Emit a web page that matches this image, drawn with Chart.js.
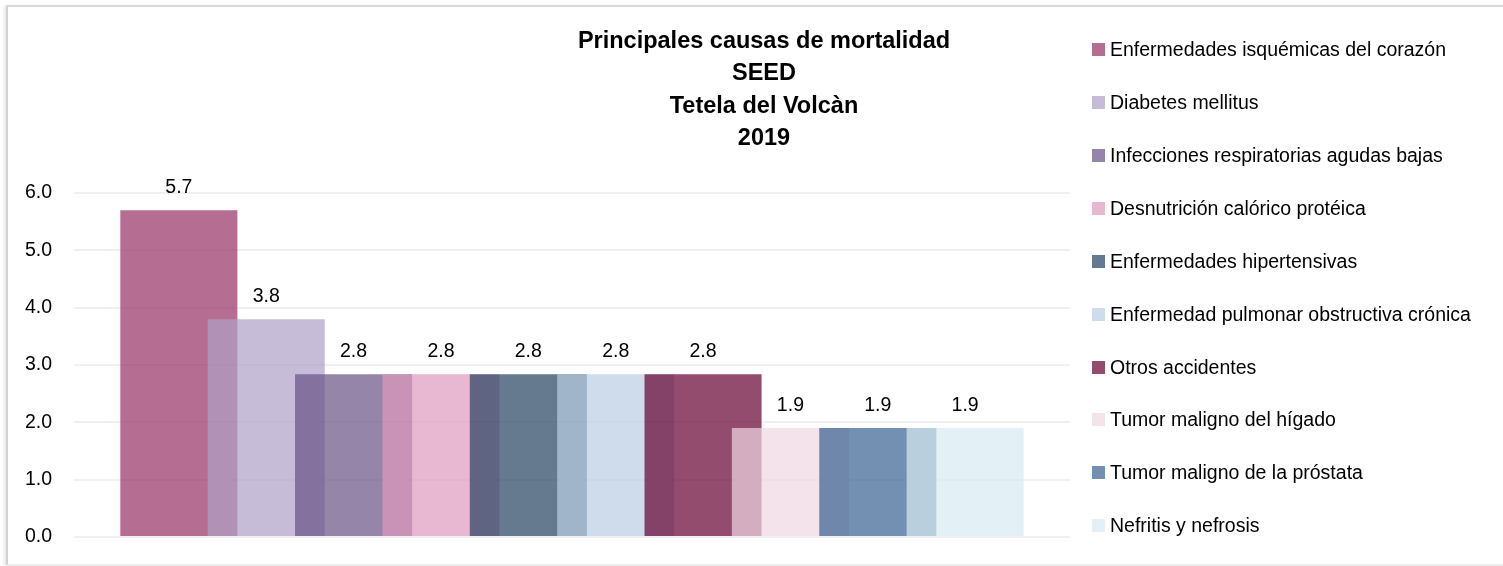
<!DOCTYPE html>
<html>
<head>
<meta charset="utf-8">
<script src="https://cdn.jsdelivr.net/npm/chart.js@4.4.1/dist/chart.umd.min.js"></script>
<style>
  html, body { margin: 0; padding: 0; background: #fff; overflow: hidden; width: 1503px; height: 566px; }
  #frame { position: absolute; left: 6px; top: 5px; width: 1600px; height: 557px;
           border-top: 2px solid #dadada; border-left: 2px solid #d2d2d2; border-bottom: 1px solid #ececec;
           box-shadow: -2px 1px 3px rgba(0,0,0,0.10); }
  #c { position: absolute; left: 0; top: 0; }
  #legend { position: absolute; left: 1092px; top: 23.25px; font-family: 'Liberation Sans', Arial, sans-serif;
            font-size: 19.5px; color: #000; }
  .row { height: 52.9px; display: flex; align-items: center; white-space: nowrap; }
  .sw { width: 13px; height: 13px; margin-right: 5px; flex: none; }
</style>
</head>
<body>
<div id="frame"></div>
<canvas id="c" width="1503" height="566"></canvas>
<div id="legend"></div>
<script>
// ---- data ----
const causes = [
  'Enfermedades isquémicas del corazón',
  'Diabetes mellitus',
  'Infecciones respiratorias agudas bajas',
  'Desnutrición calórico protéica',
  'Enfermedades hipertensivas',
  'Enfermedad pulmonar obstructiva crónica',
  'Otros accidentes',
  'Tumor maligno del hígado',
  'Tumor maligno de la próstata',
  'Nefritis y nefrosis'
];
const rates = [5.7, 3.8, 2.84, 2.84, 2.84, 2.84, 2.84, 1.9, 1.9, 1.9];
const titleLines = ['Principales causas de mortalidad', 'SEED', 'Tetela del Volcàn', '2019'];
const yTicks = [0, 1, 2, 3, 4, 5, 6];
const colors = [
  'rgba(149,48,98,0.7)',
  'rgba(175,159,198,0.7)',
  'rgba(104,81,132,0.7)',
  'rgba(222,152,189,0.7)',
  'rgba(36,64,95,0.7)',
  'rgba(185,205,226,0.7)',
  'rgba(101,0,49,0.7)',
  'rgba(239,215,226,0.7)',
  'rgba(55,95,145,0.7)',
  'rgba(215,234,241,0.7)'
];

const FONT = "'Liberation Sans', Arial, sans-serif";

// ---- legend (HTML) ----
const legendEl = document.getElementById('legend');
causes.forEach((name, i) => {
  const row = document.createElement('div');
  row.className = 'row';
  const sw = document.createElement('span');
  sw.className = 'sw';
  sw.style.background = colors[i];
  const tx = document.createElement('span');
  tx.textContent = name;
  row.appendChild(sw);
  row.appendChild(tx);
  legendEl.appendChild(row);
});

// ---- value labels ----
const valueLabels = {
  id: 'valueLabels',
  afterDatasetsDraw(chart) {
    const ctx = chart.ctx;
    const meta = chart.getDatasetMeta(0);
    ctx.save();
    ctx.font = '19.5px ' + FONT;
    ctx.fillStyle = '#000';
    ctx.textAlign = 'center';
    ctx.textBaseline = 'alphabetic';
    meta.data.forEach((bar, i) => {
      ctx.fillText(rates[i].toFixed(1), bar.x, bar.y - 17);
    });
    ctx.restore();
  }
};

new Chart(document.getElementById('c'), {
  type: 'bar',
  data: {
    datasets: [{
      label: 'Tasa',
      data: rates.map((v, i) => ({ x: i + 1, y: v })),
      backgroundColor: colors,
      borderWidth: 0,
      categoryPercentage: 1,
      barPercentage: 1.34
    }]
  },
  options: {
    responsive: false,
    animation: false,
    devicePixelRatio: 1,
    layout: { padding: { top: 10, left: 25, right: 0, bottom: 29 } },
    plugins: {
      legend: { display: false },
      tooltip: { enabled: false },
      title: {
        display: true,
        text: titleLines,
        color: '#000',
        font: { family: FONT, size: 23.5, weight: 'bold', lineHeight: 1.362 },
        padding: { top: 16, bottom: 39 }
      }
    },
    scales: {
      x: {
        type: 'linear', display: false, offset: false,
        min: -0.2, max: 11.2,
        ticks: { stepSize: 1, includeBounds: false }
      },
      y: {
        min: 0, max: 6,
        afterBuildTicks: (s) => { s.ticks = yTicks.map(v => ({ value: v })); },
        afterFit: (s) => { s.width = 49; },
        ticks: {
          padding: 0, crossAlign: 'far', color: '#000',
          font: { family: FONT, size: 19.5 },
          callback: (v) => Number(v).toFixed(1)
        },
        grid: { color: '#f0f0f0', lineWidth: 2, drawTicks: false },
        border: { display: false }
      },
      y2: {
        position: 'right', display: true,
        grid: { display: false }, border: { display: false },
        ticks: { display: false },
        afterFit: (s) => { s.width = 433; }
      }
    }
  },
  plugins: [valueLabels]
});
</script>
</body>
</html>
